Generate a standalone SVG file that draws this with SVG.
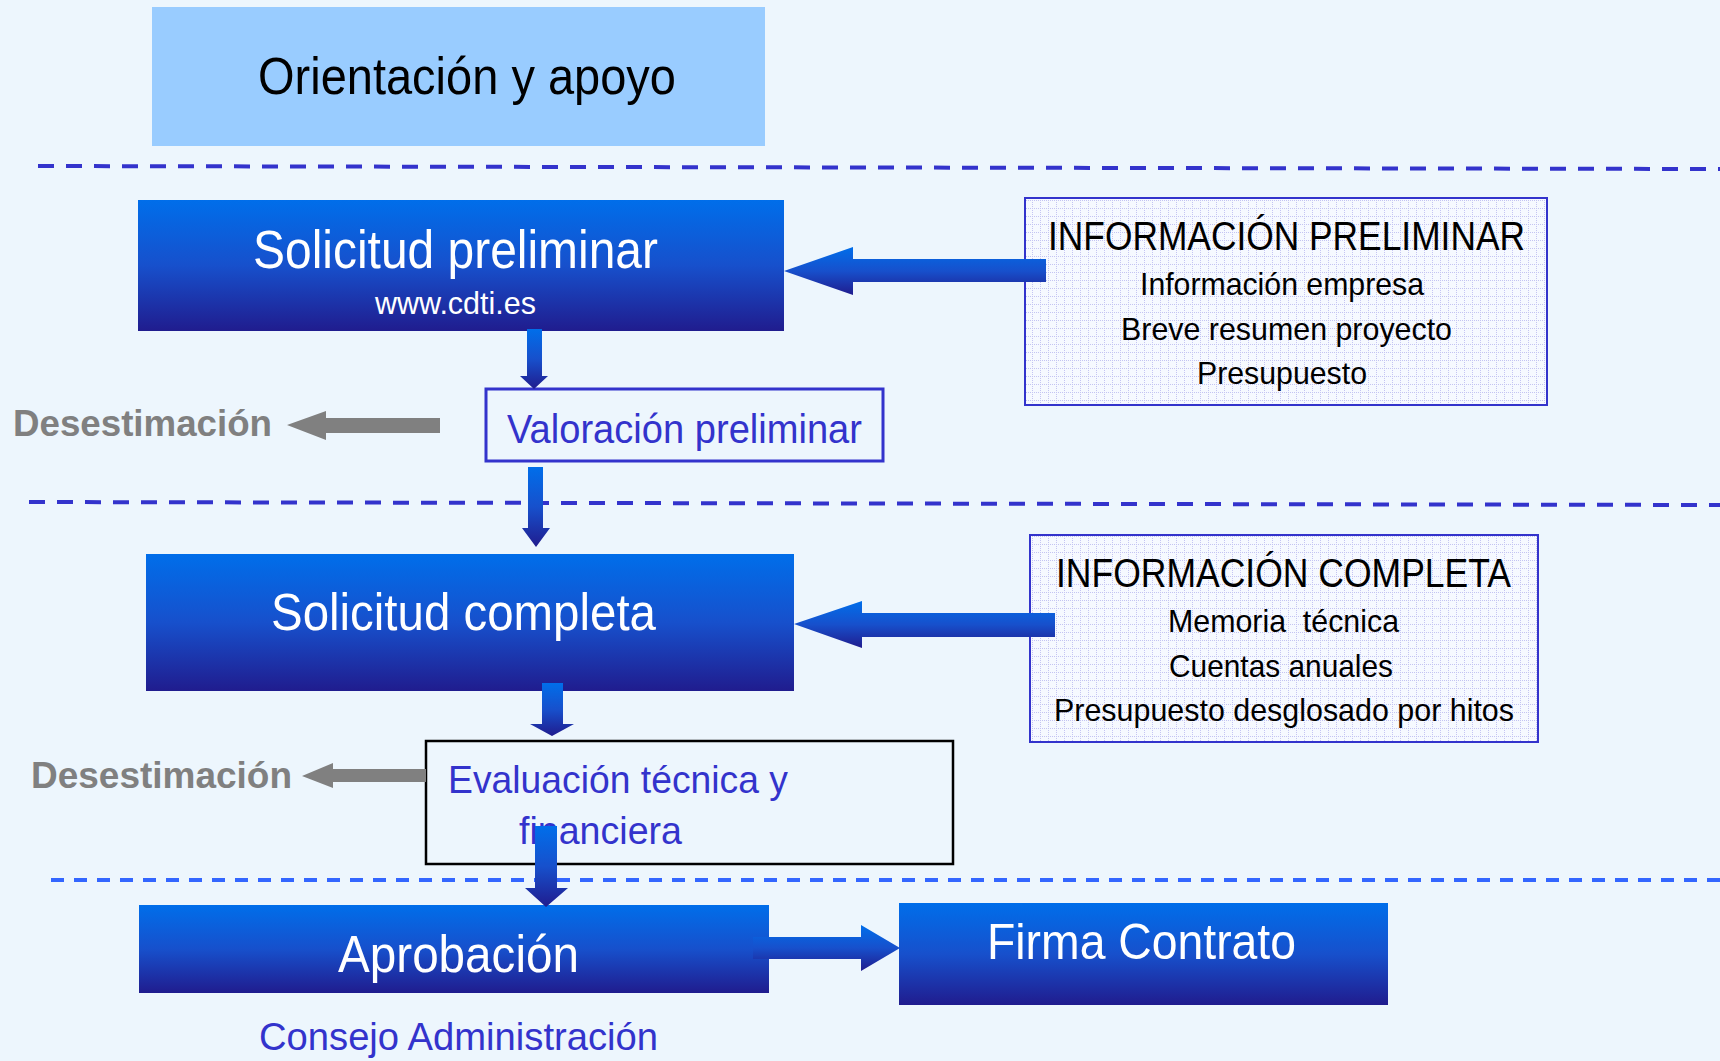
<svg xmlns="http://www.w3.org/2000/svg" width="1720" height="1061" viewBox="0 0 1720 1061">
<defs>
<linearGradient id="blue" x1="0" y1="0" x2="0" y2="1">
<stop offset="0" stop-color="#006EEA"/>
<stop offset="0.5" stop-color="#1750CC"/>
<stop offset="1" stop-color="#201C8E"/>
</linearGradient>
<pattern id="grid" width="8" height="8" patternUnits="userSpaceOnUse">
<rect width="8" height="8" fill="#F6F9FF"/>
<path d="M0 0.5H8M0.5 0V8" stroke="#C4C4F2" stroke-width="1" stroke-dasharray="1 1"/>
</pattern>
<style>
.narrow{font-family:"Liberation Sans Narrow","Liberation Sans",Arial,sans-serif}
.white{fill:#FFFFFF}
.black{fill:#000000}
.bluetxt{fill:#3333CC}
.gray{font-family:"Liberation Sans",Arial,sans-serif;font-weight:bold;fill:#808080;font-size:36px}
.dash{stroke:#3333CC;stroke-width:4;stroke-dasharray:16 12;fill:none}
.dash2{stroke:#3366FF;stroke-width:4;stroke-dasharray:13 10;fill:none}
.info{fill:url(#grid);stroke:#3333CC;stroke-width:2}
.arrow{fill:url(#blue)}
.garrow{fill:#808080}
</style>
</defs>
<rect width="1720" height="1061" fill="#EDF6FD"/>
<g id="separators">
<line class="dash" x1="38" y1="166" x2="1720" y2="169"/>
<line class="dash" x1="29" y1="502" x2="1720" y2="505"/>
<line class="dash2" x1="51" y1="880" x2="1720" y2="880"/>
</g>
<g id="orientacion">
<rect x="152" y="7" width="613" height="139" fill="#99CCFF"/>
<text class="narrow black" x="258" y="94" font-size="52" textLength="418" lengthAdjust="spacingAndGlyphs">Orientación y apoyo</text>
</g>
<g id="solicitud-preliminar">
<rect x="138" y="200" width="646" height="131" fill="url(#blue)"/>
<text class="narrow white" x="253" y="268" font-size="53" textLength="405" lengthAdjust="spacingAndGlyphs">Solicitud preliminar</text>
<text class="narrow white" x="375" y="314" font-size="32" textLength="161" lengthAdjust="spacingAndGlyphs">www.cdti.es</text>
</g>
<g id="info-preliminar">
<rect class="info" x="1025" y="198" width="522" height="207"/>
<text class="narrow black" x="1048" y="250" font-size="40" textLength="477" lengthAdjust="spacingAndGlyphs">INFORMACIÓN PRELIMINAR</text>
<text class="narrow black" x="1140" y="295" font-size="32" textLength="284" lengthAdjust="spacingAndGlyphs">Información empresa</text>
<text class="narrow black" x="1121" y="340" font-size="32" textLength="331" lengthAdjust="spacingAndGlyphs">Breve resumen proyecto</text>
<text class="narrow black" x="1197" y="384" font-size="32" textLength="170" lengthAdjust="spacingAndGlyphs">Presupuesto</text>
</g>
<g id="valoracion">
<rect x="486" y="389" width="397" height="72" fill="#EDF6FD" stroke="#3333CC" stroke-width="3"/>
<text class="narrow bluetxt" x="507" y="443" font-size="41" textLength="355" lengthAdjust="spacingAndGlyphs">Valoración preliminar</text>
</g>
<g id="desestimacion-1">
<text class="gray" x="13" y="436" textLength="259" lengthAdjust="spacingAndGlyphs">Desestimación</text>
</g>
<g id="solicitud-completa">
<rect x="146" y="554" width="648" height="137" fill="url(#blue)"/>
<text class="narrow white" x="271" y="630" font-size="52" textLength="385" lengthAdjust="spacingAndGlyphs">Solicitud completa</text>
</g>
<g id="info-completa">
<rect class="info" x="1030" y="535" width="508" height="207"/>
<text class="narrow black" x="1056" y="587" font-size="40" textLength="455" lengthAdjust="spacingAndGlyphs">INFORMACIÓN COMPLETA</text>
<text class="narrow black" x="1168" y="632" font-size="32" textLength="231" lengthAdjust="spacingAndGlyphs" xml:space="preserve">Memoria  técnica</text>
<text class="narrow black" x="1169" y="677" font-size="32" textLength="224" lengthAdjust="spacingAndGlyphs">Cuentas anuales</text>
<text class="narrow black" x="1054" y="721" font-size="32" textLength="460" lengthAdjust="spacingAndGlyphs">Presupuesto desglosado por hitos</text>
</g>
<g id="evaluacion">
<rect x="426" y="741" width="527" height="123" fill="#EDF6FD" stroke="#000000" stroke-width="2.5"/>
<text class="narrow bluetxt" x="448" y="793" font-size="39" textLength="340" lengthAdjust="spacingAndGlyphs">Evaluación técnica y</text>
<text class="narrow bluetxt" x="519" y="844" font-size="39" textLength="163" lengthAdjust="spacingAndGlyphs">financiera</text>
</g>
<g id="desestimacion-2">
<text class="gray" x="31" y="788" textLength="261" lengthAdjust="spacingAndGlyphs">Desestimación</text>
</g>
<g id="aprobacion">
<rect x="139" y="905" width="630" height="88" fill="url(#blue)"/>
<text class="narrow white" x="338" y="972" font-size="52" textLength="241" lengthAdjust="spacingAndGlyphs">Aprobación</text>
</g>
<g id="consejo">
<text class="narrow bluetxt" x="259" y="1050" font-size="39" textLength="399" lengthAdjust="spacingAndGlyphs">Consejo Administración</text>
</g>
<g id="firma-contrato">
<rect x="899" y="903" width="489" height="102" fill="url(#blue)"/>
<text class="narrow white" x="987" y="959" font-size="50" textLength="309" lengthAdjust="spacingAndGlyphs">Firma Contrato</text>
</g>
<g id="connectors">
<polygon class="arrow" points="784,271 853,247 853,259 1046,259 1046,282 853,282 853,295"/>
<polygon class="arrow" points="794,624 862,601 862,613 1055,613 1055,637 862,637 862,648"/>
<polygon class="arrow" points="527,329 542,329 542,376 548,376 534,389 520,376 527,376"/>
<polygon class="arrow" points="528,467 543,467 543,528 550,528 536,547 522,528 528,528"/>
<polygon class="arrow" points="542,683 563,683 563,724 574,724 552,736 530,724 542,724"/>
<polygon class="arrow" points="535,826 557,826 557,888 568,888 546,907 525,888 535,888"/>
<polygon class="arrow" points="753,937 861,937 861,925 900,948 861,971 861,959 753,959"/>
<polygon class="garrow" points="287,425 326,411 326,418 440,418 440,433 326,433 326,440"/>
<polygon class="garrow" points="302,776 333,763 333,769 426,769 426,782 333,782 333,788"/>
</g>
</svg>
